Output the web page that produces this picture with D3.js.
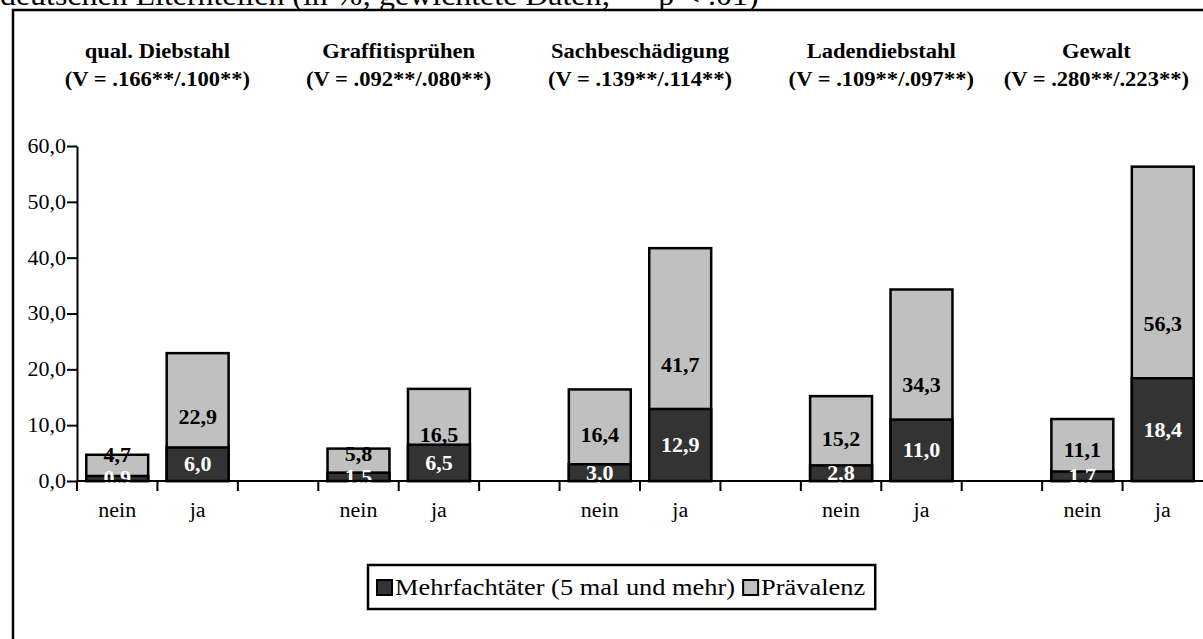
<!DOCTYPE html>
<html><head><meta charset="utf-8">
<script src="https://cdn.jsdelivr.net/npm/d3@7"></script>
<style>
body{margin:0;background:#fff;overflow:hidden}
svg{display:block}
text{font-family:"Liberation Serif","Times New Roman",serif;fill:#000}
</style>
</head><body>
<svg id="chart" width="1203" height="639"></svg>
<script>
// ---------- data ----------
const headline = "deutschen Elternteilen (in %; gewichtete Daten; ** p < .01)";
const groups = ["qual. Diebstahl","Graffitisprühen","Sachbeschädigung","Ladendiebstahl","Gewalt"];
const cramersV = ["(V = .166**/.100**)","(V = .092**/.080**)","(V = .139**/.114**)","(V = .109**/.097**)","(V = .280**/.223**)"];
const answers = ["nein","ja"];
const mehrfach   = [0.9, 6.0, 1.5, 6.5, 3.0, 12.9, 2.8, 11.0, 1.7, 18.4];
const praevalenz = [4.7, 22.9, 5.8, 16.5, 16.4, 41.7, 15.2, 34.3, 11.1, 56.3];
const yTicks = [0,10,20,30,40,50,60];
const seriesNames = ["Mehrfachtäter (5 mal und mehr)","Prävalenz"];
const seriesColors = ["#333333","#c0c0c0"];

// ---------- layout ----------
const W = 1203, H = 639;
const SX = 1.1; // slight horizontal glyph stretch of the original picture
const svg = d3.select("#chart");
const fmt = v => d3.format(".1f")(v).replace(".", ",");
function stretch(sel){
  sel.each(function(){
    const L = this.getComputedTextLength();
    this.__w = L*SX;
    d3.select(this).attr("textLength", L*SX).attr("lengthAdjust","spacingAndGlyphs");
  });
}

// headline (cut at the top of the picture, as in the original)
svg.append("text").attr("x",0).attr("y",5).style("font-size","29px").text(headline).call(stretch);

// frame
svg.append("rect").attr("x",13).attr("y",10).attr("width",W).attr("height",H)
  .attr("fill","none").attr("stroke","#000").attr("stroke-width",2.5);

// slots: nein, ja, gap per group (no trailing gap)
const slots = [];
groups.forEach((g,gi)=>{
  answers.forEach(a=>slots.push(g+"|"+a));
  if (gi < groups.length-1) slots.push(g+"|gap");
});
const x = d3.scaleBand().domain(slots).range([77, W]).paddingInner(0).paddingOuter(0);
const y = d3.scaleLinear().domain([0,60]).range([481,146]);
const barW = x.bandwidth()*0.77;

const records = [];
groups.forEach((g,gi)=>answers.forEach((a,ai)=>{
  const i = gi*answers.length+ai;
  records.push({key:g+"|"+a, a, m:mehrfach[i], p:praevalenz[i]});
}));

// y axis
const yAxis = d3.axisLeft(y).tickValues(yTicks).tickFormat(fmt).tickSize(10).tickSizeOuter(0);
const gy = svg.append("g").attr("transform","translate(77,0)").call(yAxis);
gy.select(".domain").attr("stroke","#000").attr("stroke-width",2);
gy.selectAll(".tick line").attr("stroke","#000").attr("stroke-width",2);
gy.selectAll(".tick text").attr("x",-11).style("font-size","20px")
  .style("font-family",'"Liberation Serif","Times New Roman",serif').attr("fill","#000").call(stretch);

// bars
const bars = svg.append("g");
const bx = d => x(d.key) + (x.bandwidth()-barW)/2;
bars.selectAll("rect.p").data(records).join("rect").attr("class","p")
  .attr("x",bx).attr("width",barW).attr("y",d=>y(d.p)).attr("height",d=>y(0)-y(d.p))
  .attr("fill",seriesColors[1]).attr("stroke","#000").attr("stroke-width",2.5);
bars.selectAll("rect.m").data(records).join("rect").attr("class","m")
  .attr("x",bx).attr("width",barW).attr("y",d=>y(d.m)).attr("height",d=>y(0)-y(d.m))
  .attr("fill",seriesColors[0]).attr("stroke","#000").attr("stroke-width",2.5);

// value labels
const cx = d => x(d.key) + x.bandwidth()/2;
const labels = svg.append("g").style("font-weight","bold").style("font-size","20px").attr("text-anchor","middle");
labels.selectAll("text.p").data(records).join("text").attr("class","p")
  .attr("x",cx).attr("y",d=>Math.min(y(d.p/2), y(d.m/2)-23)).attr("dy","0.35em")
  .text(d=>fmt(d.p)).call(stretch);
labels.selectAll("text.m").data(records).join("text").attr("class","m")
  .attr("x",cx).attr("y",d=>y(d.m/2)).attr("dy","0.35em").style("fill","#fff")
  .text(d=>fmt(d.m)).call(stretch);

// x axis
svg.append("line").attr("x1",77).attr("x2",W).attr("y1",y(0)).attr("y2",y(0))
  .attr("stroke","#000").attr("stroke-width",2);
svg.append("g").selectAll("line").data(slots).join("line")
  .attr("x1",d=>x(d)).attr("x2",d=>x(d)).attr("y1",y(0)).attr("y2",y(0)+10)
  .attr("stroke","#000").attr("stroke-width",2);
svg.append("g").selectAll("text").data(records).join("text")
  .attr("x",cx).attr("y",y(0)+36).attr("text-anchor","middle").style("font-size","20px")
  .text(d=>d.a).call(stretch);

// group titles
groups.forEach((g,gi)=>{
  const c = x(g+"|ja");
  const t = svg.append("g").style("font-weight","bold").style("font-size","20.5px").attr("text-anchor","middle");
  const t1 = t.append("text").attr("x",c).attr("y",58).text(g).call(stretch);
  const t2 = t.append("text").attr("x",c).attr("y",86).text(cramersV[gi]).call(stretch);
  const half = Math.max(t1.node().__w, t2.node().__w)/2;
  const cc = Math.min(c, W-14-half);
  t1.attr("x",cc); t2.attr("x",cc);
});

// legend
const lg = svg.append("g").attr("transform","translate(368,565)");
const box = lg.append("rect").attr("fill","#fff").attr("stroke","#000").attr("stroke-width",2.5);
let lx = 9;
seriesNames.forEach((s,i)=>{
  lg.append("rect").attr("x",lx).attr("y",15).attr("width",15).attr("height",15)
    .attr("fill",seriesColors[i]).attr("stroke","#000").attr("stroke-width",2);
  const t = lg.append("text").attr("x",lx+18).attr("y",30).style("font-size","24px").text(s).call(stretch);
  lx += 18 + t.node().__w + 8;
});
box.attr("width",lx+2).attr("height",44);
</script>
</body></html>
